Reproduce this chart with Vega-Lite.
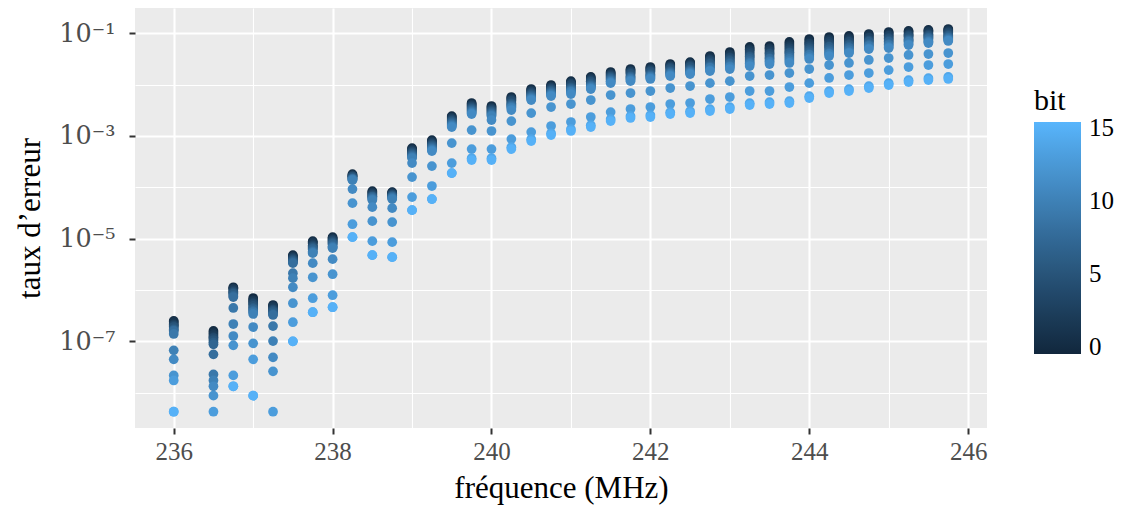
{
"$schema": "https://vega.github.io/schema/vega-lite/v6.json",
"width": 852, "height": 420,
"autosize": {"type": "none"},
"padding": {"left": 135, "top": 8, "right": 139, "bottom": 79},
"background": "white",
"config": {"view": {"fill": "#EBEBEB", "stroke": null}, "font": "Liberation Serif"},
"data": {"values": [
{"freq":236,"bit":0,"taux":2.49e-7},{"freq":236,"bit":1,"taux":2.38e-7},{"freq":236,"bit":2,"taux":2.17e-7},{"freq":236,"bit":3,"taux":2.08e-7},{"freq":236,"bit":4,"taux":1.98e-7},{"freq":236,"bit":5,"taux":1.90e-7},{"freq":236,"bit":6,"taux":1.73e-7},{"freq":236,"bit":7,"taux":1.66e-7},{"freq":236,"bit":8,"taux":1.59e-7},{"freq":236,"bit":9,"taux":1.39e-7},{"freq":236,"bit":10,"taux":6.68e-8},{"freq":236,"bit":11,"taux":4.46e-8},{"freq":236,"bit":12,"taux":2.17e-8},{"freq":236,"bit":13,"taux":1.73e-8},{"freq":236,"bit":14,"taux":4.26e-9},{"freq":236,"bit":15,"taux":4.26e-9},
{"freq":236.5,"bit":0,"taux":1.59e-7},{"freq":236.5,"bit":1,"taux":1.45e-7},{"freq":236.5,"bit":2,"taux":1.33e-7},{"freq":236.5,"bit":3,"taux":1.21e-7},{"freq":236.5,"bit":4,"taux":1.16e-7},{"freq":236.5,"bit":5,"taux":1.06e-7},{"freq":236.5,"bit":6,"taux":9.56e-8},{"freq":236.5,"bit":7,"taux":8.74e-8},{"freq":236.5,"bit":8,"taux":5.58e-8},{"freq":236.5,"bit":9,"taux":2.27e-8},{"freq":236.5,"bit":10,"taux":1.73e-8},{"freq":236.5,"bit":11,"taux":1.33e-8},{"freq":236.5,"bit":12,"taux":8.74e-9},{"freq":236.5,"bit":13,"taux":4.26e-9},
{"freq":236.75,"bit":0,"taux":1.13e-6},{"freq":236.75,"bit":1,"taux":1.08e-6},{"freq":236.75,"bit":2,"taux":1.04e-6},{"freq":236.75,"bit":3,"taux":9.56e-7},{"freq":236.75,"bit":4,"taux":9.14e-7},{"freq":236.75,"bit":5,"taux":8.74e-7},{"freq":236.75,"bit":6,"taux":8.36e-7},{"freq":236.75,"bit":7,"taux":7.64e-7},{"freq":236.75,"bit":8,"taux":7.30e-7},{"freq":236.75,"bit":9,"taux":4.46e-7},{"freq":236.75,"bit":10,"taux":2.17e-7},{"freq":236.75,"bit":11,"taux":1.27e-7},{"freq":236.75,"bit":12,"taux":8.36e-8},{"freq":236.75,"bit":13,"taux":2.17e-8},{"freq":236.75,"bit":14,"taux":1.33e-8},{"freq":236.75,"bit":15,"taux":1.33e-8},
{"freq":237,"bit":0,"taux":6.98e-7},{"freq":237,"bit":1,"taux":6.38e-7},{"freq":237,"bit":2,"taux":6.10e-7},{"freq":237,"bit":3,"taux":5.58e-7},{"freq":237,"bit":4,"taux":5.33e-7},{"freq":237,"bit":5,"taux":4.88e-7},{"freq":237,"bit":6,"taux":4.46e-7},{"freq":237,"bit":7,"taux":4.26e-7},{"freq":237,"bit":8,"taux":3.90e-7},{"freq":237,"bit":9,"taux":3.72e-7},{"freq":237,"bit":10,"taux":3.41e-7},{"freq":237,"bit":11,"taux":1.90e-7},{"freq":237,"bit":12,"taux":9.14e-8},{"freq":237,"bit":13,"taux":4.46e-8},{"freq":237,"bit":14,"taux":8.74e-9},{"freq":237,"bit":15,"taux":8.74e-9},
{"freq":237.25,"bit":0,"taux":5.10e-7},{"freq":237.25,"bit":1,"taux":4.88e-7},{"freq":237.25,"bit":2,"taux":4.66e-7},{"freq":237.25,"bit":3,"taux":4.26e-7},{"freq":237.25,"bit":4,"taux":4.08e-7},{"freq":237.25,"bit":5,"taux":3.90e-7},{"freq":237.25,"bit":6,"taux":3.72e-7},{"freq":237.25,"bit":7,"taux":3.41e-7},{"freq":237.25,"bit":8,"taux":3.26e-7},{"freq":237.25,"bit":9,"taux":1.98e-7},{"freq":237.25,"bit":10,"taux":1.01e-7},{"freq":237.25,"bit":11,"taux":4.88e-8},{"freq":237.25,"bit":12,"taux":2.60e-8},{"freq":237.25,"bit":13,"taux":4.26e-9},
{"freq":237.5,"bit":0,"taux":4.77e-6},{"freq":237.5,"bit":1,"taux":4.56e-6},{"freq":237.5,"bit":2,"taux":4.36e-6},{"freq":237.5,"bit":3,"taux":4.17e-6},{"freq":237.5,"bit":4,"taux":3.99e-6},{"freq":237.5,"bit":5,"taux":3.81e-6},{"freq":237.5,"bit":6,"taux":3.64e-6},{"freq":237.5,"bit":7,"taux":3.48e-6},{"freq":237.5,"bit":8,"taux":3.33e-6},{"freq":237.5,"bit":9,"taux":2.12e-6},{"freq":237.5,"bit":10,"taux":1.70e-6},{"freq":237.5,"bit":11,"taux":1.13e-6},{"freq":237.5,"bit":12,"taux":5.53e-7},{"freq":237.5,"bit":13,"taux":2.36e-7},{"freq":237.5,"bit":14,"taux":1.00e-7},{"freq":237.5,"bit":15,"taux":1.00e-7},
{"freq":237.75,"bit":0,"taux":8.94e-6},{"freq":237.75,"bit":1,"taux":8.55e-6},{"freq":237.75,"bit":2,"taux":8.17e-6},{"freq":237.75,"bit":3,"taux":7.47e-6},{"freq":237.75,"bit":4,"taux":7.14e-6},{"freq":237.75,"bit":5,"taux":6.83e-6},{"freq":237.75,"bit":6,"taux":6.53e-6},{"freq":237.75,"bit":7,"taux":6.24e-6},{"freq":237.75,"bit":8,"taux":5.71e-6},{"freq":237.75,"bit":9,"taux":5.46e-6},{"freq":237.75,"bit":10,"taux":5.22e-6},{"freq":237.75,"bit":11,"taux":3.33e-6},{"freq":237.75,"bit":12,"taux":1.77e-6},{"freq":237.75,"bit":13,"taux":6.92e-7},{"freq":237.75,"bit":14,"taux":3.69e-7},{"freq":237.75,"bit":15,"taux":3.69e-7},
{"freq":238,"bit":0,"taux":1.07e-5},{"freq":238,"bit":1,"taux":1.02e-5},{"freq":238,"bit":2,"taux":9.78e-6},{"freq":238,"bit":3,"taux":9.35e-6},{"freq":238,"bit":4,"taux":8.94e-6},{"freq":238,"bit":5,"taux":8.55e-6},{"freq":238,"bit":6,"taux":8.17e-6},{"freq":238,"bit":7,"taux":7.81e-6},{"freq":238,"bit":8,"taux":7.14e-6},{"freq":238,"bit":9,"taux":6.83e-6},{"freq":238,"bit":10,"taux":6.53e-6},{"freq":238,"bit":11,"taux":3.99e-6},{"freq":238,"bit":12,"taux":2.03e-6},{"freq":238,"bit":13,"taux":7.92e-7},{"freq":238,"bit":14,"taux":4.62e-7},{"freq":238,"bit":15,"taux":4.62e-7},
{"freq":238.25,"bit":0,"taux":1.81e-4},{"freq":238.25,"bit":1,"taux":1.73e-4},{"freq":238.25,"bit":2,"taux":1.70e-4},{"freq":238.25,"bit":3,"taux":1.65e-4},{"freq":238.25,"bit":4,"taux":1.62e-4},{"freq":238.25,"bit":5,"taux":1.58e-4},{"freq":238.25,"bit":6,"taux":1.51e-4},{"freq":238.25,"bit":7,"taux":1.48e-4},{"freq":238.25,"bit":8,"taux":1.45e-4},{"freq":238.25,"bit":9,"taux":1.42e-4},{"freq":238.25,"bit":10,"taux":1.38e-4},{"freq":238.25,"bit":11,"taux":9.22e-5},{"freq":238.25,"bit":12,"taux":4.92e-5},{"freq":238.25,"bit":13,"taux":1.91e-5},{"freq":238.25,"bit":14,"taux":1.07e-5},{"freq":238.25,"bit":15,"taux":1.07e-5},
{"freq":238.5,"bit":0,"taux":8.43e-5},{"freq":238.5,"bit":1,"taux":8.06e-5},{"freq":238.5,"bit":2,"taux":7.71e-5},{"freq":238.5,"bit":3,"taux":7.37e-5},{"freq":238.5,"bit":4,"taux":7.05e-5},{"freq":238.5,"bit":5,"taux":6.74e-5},{"freq":238.5,"bit":6,"taux":6.60e-5},{"freq":238.5,"bit":7,"taux":6.44e-5},{"freq":238.5,"bit":8,"taux":6.16e-5},{"freq":238.5,"bit":9,"taux":5.89e-5},{"freq":238.5,"bit":10,"taux":5.63e-5},{"freq":238.5,"bit":11,"taux":4.11e-5},{"freq":238.5,"bit":12,"taux":2.19e-5},{"freq":238.5,"bit":13,"taux":8.94e-6},{"freq":238.5,"bit":14,"taux":4.77e-6},{"freq":238.5,"bit":15,"taux":4.77e-6},
{"freq":238.75,"bit":0,"taux":8.06e-5},{"freq":238.75,"bit":1,"taux":7.85e-5},{"freq":238.75,"bit":2,"taux":7.60e-5},{"freq":238.75,"bit":3,"taux":7.37e-5},{"freq":238.75,"bit":4,"taux":7.15e-5},{"freq":238.75,"bit":5,"taux":6.95e-5},{"freq":238.75,"bit":6,"taux":6.74e-5},{"freq":238.75,"bit":7,"taux":6.55e-5},{"freq":238.75,"bit":8,"taux":6.35e-5},{"freq":238.75,"bit":9,"taux":6.16e-5},{"freq":238.75,"bit":10,"taux":5.89e-5},{"freq":238.75,"bit":11,"taux":3.93e-5},{"freq":238.75,"bit":12,"taux":2.10e-5},{"freq":238.75,"bit":13,"taux":8.55e-6},{"freq":238.75,"bit":14,"taux":4.36e-6},{"freq":238.75,"bit":15,"taux":4.36e-6},
{"freq":239,"bit":0,"taux":5.81e-4},{"freq":239,"bit":1,"taux":5.55e-4},{"freq":239,"bit":2,"taux":5.31e-4},{"freq":239,"bit":3,"taux":5.08e-4},{"freq":239,"bit":4,"taux":4.86e-4},{"freq":239,"bit":5,"taux":4.64e-4},{"freq":239,"bit":6,"taux":4.44e-4},{"freq":239,"bit":7,"taux":4.24e-4},{"freq":239,"bit":8,"taux":4.06e-4},{"freq":239,"bit":9,"taux":3.88e-4},{"freq":239,"bit":10,"taux":3.71e-4},{"freq":239,"bit":11,"taux":2.96e-4},{"freq":239,"bit":12,"taux":1.58e-4},{"freq":239,"bit":13,"taux":6.44e-5},{"freq":239,"bit":14,"taux":3.59e-5},{"freq":239,"bit":15,"taux":3.59e-5},
{"freq":239.25,"bit":0,"taux":8.32e-4},{"freq":239.25,"bit":1,"taux":7.95e-4},{"freq":239.25,"bit":2,"taux":7.60e-4},{"freq":239.25,"bit":3,"taux":7.27e-4},{"freq":239.25,"bit":4,"taux":6.95e-4},{"freq":239.25,"bit":5,"taux":6.65e-4},{"freq":239.25,"bit":6,"taux":6.36e-4},{"freq":239.25,"bit":7,"taux":6.08e-4},{"freq":239.25,"bit":8,"taux":5.81e-4},{"freq":239.25,"bit":9,"taux":5.55e-4},{"freq":239.25,"bit":10,"taux":5.31e-4},{"freq":239.25,"bit":11,"taux":5.08e-4},{"freq":239.25,"bit":12,"taux":2.59e-4},{"freq":239.25,"bit":13,"taux":1.06e-4},{"freq":239.25,"bit":14,"taux":5.89e-5},{"freq":239.25,"bit":15,"taux":5.89e-5},
{"freq":239.5,"bit":0,"taux":2.44e-3},{"freq":239.5,"bit":1,"taux":2.34e-3},{"freq":239.5,"bit":2,"taux":2.24e-3},{"freq":239.5,"bit":3,"taux":2.13e-3},{"freq":239.5,"bit":4,"taux":2.04e-3},{"freq":239.5,"bit":5,"taux":1.95e-3},{"freq":239.5,"bit":6,"taux":1.87e-3},{"freq":239.5,"bit":7,"taux":1.78e-3},{"freq":239.5,"bit":8,"taux":1.71e-3},{"freq":239.5,"bit":9,"taux":1.63e-3},{"freq":239.5,"bit":10,"taux":1.56e-3},{"freq":239.5,"bit":11,"taux":1.49e-3},{"freq":239.5,"bit":12,"taux":7.27e-4},{"freq":239.5,"bit":13,"taux":2.96e-4},{"freq":239.5,"bit":14,"taux":1.89e-4},{"freq":239.5,"bit":15,"taux":1.89e-4},
{"freq":239.75,"bit":0,"taux":4.38e-3},{"freq":239.75,"bit":1,"taux":4.19e-3},{"freq":239.75,"bit":2,"taux":4.00e-3},{"freq":239.75,"bit":3,"taux":3.83e-3},{"freq":239.75,"bit":4,"taux":3.66e-3},{"freq":239.75,"bit":5,"taux":3.50e-3},{"freq":239.75,"bit":6,"taux":3.35e-3},{"freq":239.75,"bit":7,"taux":3.20e-3},{"freq":239.75,"bit":8,"taux":3.06e-3},{"freq":239.75,"bit":9,"taux":2.92e-3},{"freq":239.75,"bit":10,"taux":2.79e-3},{"freq":239.75,"bit":11,"taux":2.67e-3},{"freq":239.75,"bit":12,"taux":1.30e-3},{"freq":239.75,"bit":13,"taux":5.55e-4},{"freq":239.75,"bit":14,"taux":3.70e-4},{"freq":239.75,"bit":15,"taux":3.39e-4},
{"freq":240,"bit":0,"taux":3.83e-3},{"freq":240,"bit":1,"taux":3.66e-3},{"freq":240,"bit":2,"taux":3.50e-3},{"freq":240,"bit":3,"taux":3.35e-3},{"freq":240,"bit":4,"taux":3.20e-3},{"freq":240,"bit":5,"taux":3.06e-3},{"freq":240,"bit":6,"taux":2.92e-3},{"freq":240,"bit":7,"taux":2.79e-3},{"freq":240,"bit":8,"taux":2.67e-3},{"freq":240,"bit":9,"taux":2.55e-3},{"freq":240,"bit":10,"taux":2.44e-3},{"freq":240,"bit":11,"taux":2.04e-3},{"freq":240,"bit":12,"taux":1.25e-3},{"freq":240,"bit":13,"taux":5.55e-4},{"freq":240,"bit":14,"taux":3.70e-4},{"freq":240,"bit":15,"taux":3.39e-4},
{"freq":240.25,"bit":0,"taux":5.73e-3},{"freq":240.25,"bit":1,"taux":5.48e-3},{"freq":240.25,"bit":2,"taux":5.24e-3},{"freq":240.25,"bit":3,"taux":5.01e-3},{"freq":240.25,"bit":4,"taux":4.79e-3},{"freq":240.25,"bit":5,"taux":4.38e-3},{"freq":240.25,"bit":6,"taux":4.19e-3},{"freq":240.25,"bit":7,"taux":4.00e-3},{"freq":240.25,"bit":8,"taux":3.83e-3},{"freq":240.25,"bit":9,"taux":3.66e-3},{"freq":240.25,"bit":10,"taux":3.50e-3},{"freq":240.25,"bit":11,"taux":3.20e-3},{"freq":240.25,"bit":12,"taux":1.95e-3},{"freq":240.25,"bit":13,"taux":8.70e-4},{"freq":240.25,"bit":14,"taux":6.05e-4},{"freq":240.25,"bit":15,"taux":5.55e-4},
{"freq":240.5,"bit":0,"taux":8.21e-3},{"freq":240.5,"bit":1,"taux":7.85e-3},{"freq":240.5,"bit":2,"taux":7.50e-3},{"freq":240.5,"bit":3,"taux":7.17e-3},{"freq":240.5,"bit":4,"taux":6.86e-3},{"freq":240.5,"bit":5,"taux":6.56e-3},{"freq":240.5,"bit":6,"taux":6.27e-3},{"freq":240.5,"bit":7,"taux":6.00e-3},{"freq":240.5,"bit":8,"taux":5.73e-3},{"freq":240.5,"bit":9,"taux":5.48e-3},{"freq":240.5,"bit":10,"taux":5.24e-3},{"freq":240.5,"bit":11,"taux":5.01e-3},{"freq":240.5,"bit":12,"taux":2.79e-3},{"freq":240.5,"bit":13,"taux":1.19e-3},{"freq":240.5,"bit":14,"taux":8.67e-4},{"freq":240.5,"bit":15,"taux":7.95e-4},
{"freq":240.75,"bit":0,"taux":9.82e-3},{"freq":240.75,"bit":1,"taux":9.39e-3},{"freq":240.75,"bit":2,"taux":8.98e-3},{"freq":240.75,"bit":3,"taux":8.58e-3},{"freq":240.75,"bit":4,"taux":8.21e-3},{"freq":240.75,"bit":5,"taux":7.85e-3},{"freq":240.75,"bit":6,"taux":7.50e-3},{"freq":240.75,"bit":7,"taux":7.17e-3},{"freq":240.75,"bit":8,"taux":6.86e-3},{"freq":240.75,"bit":9,"taux":6.56e-3},{"freq":240.75,"bit":10,"taux":6.27e-3},{"freq":240.75,"bit":11,"taux":6.00e-3},{"freq":240.75,"bit":12,"taux":3.66e-3},{"freq":240.75,"bit":13,"taux":1.56e-3},{"freq":240.75,"bit":14,"taux":1.13e-3},{"freq":240.75,"bit":15,"taux":1.04e-3},
{"freq":241,"bit":0,"taux":1.17e-2},{"freq":241,"bit":1,"taux":1.12e-2},{"freq":241,"bit":2,"taux":1.07e-2},{"freq":241,"bit":3,"taux":1.03e-2},{"freq":241,"bit":4,"taux":9.82e-3},{"freq":241,"bit":5,"taux":8.98e-3},{"freq":241,"bit":6,"taux":8.58e-3},{"freq":241,"bit":7,"taux":8.21e-3},{"freq":241,"bit":8,"taux":7.85e-3},{"freq":241,"bit":9,"taux":7.50e-3},{"freq":241,"bit":10,"taux":7.17e-3},{"freq":241,"bit":11,"taux":6.56e-3},{"freq":241,"bit":12,"taux":4.19e-3},{"freq":241,"bit":13,"taux":1.87e-3},{"freq":241,"bit":14,"taux":1.36e-3},{"freq":241,"bit":15,"taux":1.25e-3},
{"freq":241.25,"bit":0,"taux":1.41e-2},{"freq":241.25,"bit":1,"taux":1.35e-2},{"freq":241.25,"bit":2,"taux":1.29e-2},{"freq":241.25,"bit":3,"taux":1.23e-2},{"freq":241.25,"bit":4,"taux":1.17e-2},{"freq":241.25,"bit":5,"taux":1.12e-2},{"freq":241.25,"bit":6,"taux":1.03e-2},{"freq":241.25,"bit":7,"taux":9.82e-3},{"freq":241.25,"bit":8,"taux":9.39e-3},{"freq":241.25,"bit":9,"taux":8.98e-3},{"freq":241.25,"bit":10,"taux":8.58e-3},{"freq":241.25,"bit":11,"taux":8.21e-3},{"freq":241.25,"bit":12,"taux":5.01e-3},{"freq":241.25,"bit":13,"taux":2.34e-3},{"freq":241.25,"bit":14,"taux":1.62e-3},{"freq":241.25,"bit":15,"taux":1.49e-3},
{"freq":241.5,"bit":0,"taux":1.76e-2},{"freq":241.5,"bit":1,"taux":1.68e-2},{"freq":241.5,"bit":2,"taux":1.61e-2},{"freq":241.5,"bit":3,"taux":1.54e-2},{"freq":241.5,"bit":4,"taux":1.47e-2},{"freq":241.5,"bit":5,"taux":1.41e-2},{"freq":241.5,"bit":6,"taux":1.35e-2},{"freq":241.5,"bit":7,"taux":1.29e-2},{"freq":241.5,"bit":8,"taux":1.23e-2},{"freq":241.5,"bit":9,"taux":1.17e-2},{"freq":241.5,"bit":10,"taux":1.12e-2},{"freq":241.5,"bit":11,"taux":1.07e-2},{"freq":241.5,"bit":12,"taux":6.27e-3},{"freq":241.5,"bit":13,"taux":2.92e-3},{"freq":241.5,"bit":14,"taux":2.13e-3},{"freq":241.5,"bit":15,"taux":1.95e-3},
{"freq":241.75,"bit":0,"taux":2.01e-2},{"freq":241.75,"bit":1,"taux":1.92e-2},{"freq":241.75,"bit":2,"taux":1.84e-2},{"freq":241.75,"bit":3,"taux":1.76e-2},{"freq":241.75,"bit":4,"taux":1.68e-2},{"freq":241.75,"bit":5,"taux":1.61e-2},{"freq":241.75,"bit":6,"taux":1.47e-2},{"freq":241.75,"bit":7,"taux":1.41e-2},{"freq":241.75,"bit":8,"taux":1.35e-2},{"freq":241.75,"bit":9,"taux":1.29e-2},{"freq":241.75,"bit":10,"taux":1.23e-2},{"freq":241.75,"bit":11,"taux":1.17e-2},{"freq":241.75,"bit":12,"taux":6.86e-3},{"freq":241.75,"bit":13,"taux":3.35e-3},{"freq":241.75,"bit":14,"taux":2.44e-3},{"freq":241.75,"bit":15,"taux":2.24e-3},
{"freq":242,"bit":0,"taux":2.20e-2},{"freq":242,"bit":1,"taux":2.11e-2},{"freq":242,"bit":2,"taux":2.01e-2},{"freq":242,"bit":3,"taux":1.92e-2},{"freq":242,"bit":4,"taux":1.84e-2},{"freq":242,"bit":5,"taux":1.76e-2},{"freq":242,"bit":6,"taux":1.61e-2},{"freq":242,"bit":7,"taux":1.54e-2},{"freq":242,"bit":8,"taux":1.47e-2},{"freq":242,"bit":9,"taux":1.41e-2},{"freq":242,"bit":10,"taux":1.35e-2},{"freq":242,"bit":11,"taux":1.29e-2},{"freq":242,"bit":12,"taux":7.50e-3},{"freq":242,"bit":13,"taux":3.66e-3},{"freq":242,"bit":14,"taux":2.55e-3},{"freq":242,"bit":15,"taux":2.34e-3},
{"freq":242.25,"bit":0,"taux":2.52e-2},{"freq":242.25,"bit":1,"taux":2.41e-2},{"freq":242.25,"bit":2,"taux":2.30e-2},{"freq":242.25,"bit":3,"taux":2.20e-2},{"freq":242.25,"bit":4,"taux":2.11e-2},{"freq":242.25,"bit":5,"taux":2.01e-2},{"freq":242.25,"bit":6,"taux":1.84e-2},{"freq":242.25,"bit":7,"taux":1.76e-2},{"freq":242.25,"bit":8,"taux":1.68e-2},{"freq":242.25,"bit":9,"taux":1.61e-2},{"freq":242.25,"bit":10,"taux":1.54e-2},{"freq":242.25,"bit":11,"taux":1.47e-2},{"freq":242.25,"bit":12,"taux":8.58e-3},{"freq":242.25,"bit":13,"taux":4.19e-3},{"freq":242.25,"bit":14,"taux":2.91e-3},{"freq":242.25,"bit":15,"taux":2.67e-3},
{"freq":242.5,"bit":0,"taux":2.75e-2},{"freq":242.5,"bit":1,"taux":2.64e-2},{"freq":242.5,"bit":2,"taux":2.52e-2},{"freq":242.5,"bit":3,"taux":2.41e-2},{"freq":242.5,"bit":4,"taux":2.30e-2},{"freq":242.5,"bit":5,"taux":2.20e-2},{"freq":242.5,"bit":6,"taux":2.01e-2},{"freq":242.5,"bit":7,"taux":1.92e-2},{"freq":242.5,"bit":8,"taux":1.84e-2},{"freq":242.5,"bit":9,"taux":1.76e-2},{"freq":242.5,"bit":10,"taux":1.68e-2},{"freq":242.5,"bit":11,"taux":1.61e-2},{"freq":242.5,"bit":12,"taux":9.39e-3},{"freq":242.5,"bit":13,"taux":4.38e-3},{"freq":242.5,"bit":14,"taux":3.04e-3},{"freq":242.5,"bit":15,"taux":2.79e-3},
{"freq":242.75,"bit":0,"taux":3.61e-2},{"freq":242.75,"bit":1,"taux":3.45e-2},{"freq":242.75,"bit":2,"taux":3.16e-2},{"freq":242.75,"bit":3,"taux":3.02e-2},{"freq":242.75,"bit":4,"taux":2.88e-2},{"freq":242.75,"bit":5,"taux":2.64e-2},{"freq":242.75,"bit":6,"taux":2.52e-2},{"freq":242.75,"bit":7,"taux":2.30e-2},{"freq":242.75,"bit":8,"taux":2.20e-2},{"freq":242.75,"bit":9,"taux":2.11e-2},{"freq":242.75,"bit":10,"taux":1.92e-2},{"freq":242.75,"bit":11,"taux":1.84e-2},{"freq":242.75,"bit":12,"taux":1.07e-2},{"freq":242.75,"bit":13,"taux":5.24e-3},{"freq":242.75,"bit":14,"taux":3.34e-3},{"freq":242.75,"bit":15,"taux":3.06e-3},
{"freq":243,"bit":0,"taux":4.32e-2},{"freq":243,"bit":1,"taux":3.95e-2},{"freq":243,"bit":2,"taux":3.78e-2},{"freq":243,"bit":3,"taux":3.45e-2},{"freq":243,"bit":4,"taux":3.30e-2},{"freq":243,"bit":5,"taux":3.02e-2},{"freq":243,"bit":6,"taux":2.88e-2},{"freq":243,"bit":7,"taux":2.64e-2},{"freq":243,"bit":8,"taux":2.52e-2},{"freq":243,"bit":9,"taux":2.30e-2},{"freq":243,"bit":10,"taux":2.20e-2},{"freq":243,"bit":11,"taux":2.01e-2},{"freq":243,"bit":12,"taux":1.17e-2},{"freq":243,"bit":13,"taux":5.73e-3},{"freq":243,"bit":14,"taux":3.65e-3},{"freq":243,"bit":15,"taux":3.35e-3},
{"freq":243.25,"bit":0,"taux":5.41e-2},{"freq":243.25,"bit":1,"taux":4.94e-2},{"freq":243.25,"bit":2,"taux":4.72e-2},{"freq":243.25,"bit":3,"taux":4.32e-2},{"freq":243.25,"bit":4,"taux":3.95e-2},{"freq":243.25,"bit":5,"taux":3.61e-2},{"freq":243.25,"bit":6,"taux":3.45e-2},{"freq":243.25,"bit":7,"taux":3.16e-2},{"freq":243.25,"bit":8,"taux":2.88e-2},{"freq":243.25,"bit":9,"taux":2.64e-2},{"freq":243.25,"bit":10,"taux":2.52e-2},{"freq":243.25,"bit":11,"taux":2.30e-2},{"freq":243.25,"bit":12,"taux":1.47e-2},{"freq":243.25,"bit":13,"taux":7.50e-3},{"freq":243.25,"bit":14,"taux":4.36e-3},{"freq":243.25,"bit":15,"taux":4.00e-3},
{"freq":243.5,"bit":0,"taux":5.65e-2},{"freq":243.5,"bit":1,"taux":5.17e-2},{"freq":243.5,"bit":2,"taux":4.94e-2},{"freq":243.5,"bit":3,"taux":4.52e-2},{"freq":243.5,"bit":4,"taux":4.13e-2},{"freq":243.5,"bit":5,"taux":3.95e-2},{"freq":243.5,"bit":6,"taux":3.61e-2},{"freq":243.5,"bit":7,"taux":3.30e-2},{"freq":243.5,"bit":8,"taux":3.16e-2},{"freq":243.5,"bit":9,"taux":2.88e-2},{"freq":243.5,"bit":10,"taux":2.75e-2},{"freq":243.5,"bit":11,"taux":2.52e-2},{"freq":243.5,"bit":12,"taux":1.54e-2},{"freq":243.5,"bit":13,"taux":7.50e-3},{"freq":243.5,"bit":14,"taux":4.57e-3},{"freq":243.5,"bit":15,"taux":4.19e-3},
{"freq":243.75,"bit":0,"taux":6.77e-2},{"freq":243.75,"bit":1,"taux":6.18e-2},{"freq":243.75,"bit":2,"taux":5.65e-2},{"freq":243.75,"bit":3,"taux":5.17e-2},{"freq":243.75,"bit":4,"taux":4.72e-2},{"freq":243.75,"bit":5,"taux":4.32e-2},{"freq":243.75,"bit":6,"taux":4.13e-2},{"freq":243.75,"bit":7,"taux":3.78e-2},{"freq":243.75,"bit":8,"taux":3.45e-2},{"freq":243.75,"bit":9,"taux":3.16e-2},{"freq":243.75,"bit":10,"taux":2.88e-2},{"freq":243.75,"bit":11,"taux":2.64e-2},{"freq":243.75,"bit":12,"taux":1.68e-2},{"freq":243.75,"bit":13,"taux":8.98e-3},{"freq":243.75,"bit":14,"taux":4.77e-3},{"freq":243.75,"bit":15,"taux":4.38e-3},
{"freq":244,"bit":0,"taux":7.74e-2},{"freq":244,"bit":1,"taux":7.08e-2},{"freq":244,"bit":2,"taux":6.47e-2},{"freq":244,"bit":3,"taux":6.18e-2},{"freq":244,"bit":4,"taux":5.65e-2},{"freq":244,"bit":5,"taux":5.17e-2},{"freq":244,"bit":6,"taux":4.72e-2},{"freq":244,"bit":7,"taux":4.32e-2},{"freq":244,"bit":8,"taux":3.95e-2},{"freq":244,"bit":9,"taux":3.78e-2},{"freq":244,"bit":10,"taux":3.45e-2},{"freq":244,"bit":11,"taux":3.16e-2},{"freq":244,"bit":12,"taux":2.01e-2},{"freq":244,"bit":13,"taux":1.07e-2},{"freq":244,"bit":14,"taux":5.97e-3},{"freq":244,"bit":15,"taux":5.48e-3},
{"freq":244.25,"bit":0,"taux":8.47e-2},{"freq":244.25,"bit":1,"taux":7.74e-2},{"freq":244.25,"bit":2,"taux":7.40e-2},{"freq":244.25,"bit":3,"taux":6.77e-2},{"freq":244.25,"bit":4,"taux":6.18e-2},{"freq":244.25,"bit":5,"taux":5.65e-2},{"freq":244.25,"bit":6,"taux":5.41e-2},{"freq":244.25,"bit":7,"taux":4.94e-2},{"freq":244.25,"bit":8,"taux":4.52e-2},{"freq":244.25,"bit":9,"taux":4.13e-2},{"freq":244.25,"bit":10,"taux":3.95e-2},{"freq":244.25,"bit":11,"taux":3.61e-2},{"freq":244.25,"bit":12,"taux":2.41e-2},{"freq":244.25,"bit":13,"taux":1.35e-2},{"freq":244.25,"bit":14,"taux":7.48e-3},{"freq":244.25,"bit":15,"taux":6.86e-3},
{"freq":244.5,"bit":0,"taux":8.86e-2},{"freq":244.5,"bit":1,"taux":8.10e-2},{"freq":244.5,"bit":2,"taux":7.74e-2},{"freq":244.5,"bit":3,"taux":7.08e-2},{"freq":244.5,"bit":4,"taux":6.77e-2},{"freq":244.5,"bit":5,"taux":6.18e-2},{"freq":244.5,"bit":6,"taux":5.91e-2},{"freq":244.5,"bit":7,"taux":5.41e-2},{"freq":244.5,"bit":8,"taux":5.17e-2},{"freq":244.5,"bit":9,"taux":4.72e-2},{"freq":244.5,"bit":10,"taux":4.32e-2},{"freq":244.5,"bit":11,"taux":4.13e-2},{"freq":244.5,"bit":12,"taux":2.64e-2},{"freq":244.5,"bit":13,"taux":1.54e-2},{"freq":244.5,"bit":14,"taux":8.18e-3},{"freq":244.5,"bit":15,"taux":7.50e-3},
{"freq":244.75,"bit":0,"taux":9.69e-2},{"freq":244.75,"bit":1,"taux":9.27e-2},{"freq":244.75,"bit":2,"taux":8.47e-2},{"freq":244.75,"bit":3,"taux":8.10e-2},{"freq":244.75,"bit":4,"taux":7.40e-2},{"freq":244.75,"bit":5,"taux":7.08e-2},{"freq":244.75,"bit":6,"taux":6.77e-2},{"freq":244.75,"bit":7,"taux":6.18e-2},{"freq":244.75,"bit":8,"taux":5.91e-2},{"freq":244.75,"bit":9,"taux":5.65e-2},{"freq":244.75,"bit":10,"taux":5.17e-2},{"freq":244.75,"bit":11,"taux":4.94e-2},{"freq":244.75,"bit":12,"taux":3.02e-2},{"freq":244.75,"bit":13,"taux":1.68e-2},{"freq":244.75,"bit":14,"taux":9.35e-3},{"freq":244.75,"bit":15,"taux":8.58e-3},
{"freq":245,"bit":0,"taux":1.06e-1},{"freq":245,"bit":1,"taux":1.01e-1},{"freq":245,"bit":2,"taux":9.27e-2},{"freq":245,"bit":3,"taux":8.86e-2},{"freq":245,"bit":4,"taux":8.10e-2},{"freq":245,"bit":5,"taux":7.74e-2},{"freq":245,"bit":6,"taux":7.08e-2},{"freq":245,"bit":7,"taux":6.77e-2},{"freq":245,"bit":8,"taux":6.18e-2},{"freq":245,"bit":9,"taux":5.91e-2},{"freq":245,"bit":10,"taux":5.41e-2},{"freq":245,"bit":11,"taux":5.17e-2},{"freq":245,"bit":12,"taux":3.30e-2},{"freq":245,"bit":13,"taux":1.92e-2},{"freq":245,"bit":14,"taux":1.07e-2},{"freq":245,"bit":15,"taux":9.82e-3},
{"freq":245.25,"bit":0,"taux":1.11e-1},{"freq":245.25,"bit":1,"taux":1.06e-1},{"freq":245.25,"bit":2,"taux":9.69e-2},{"freq":245.25,"bit":3,"taux":9.27e-2},{"freq":245.25,"bit":4,"taux":8.86e-2},{"freq":245.25,"bit":5,"taux":8.47e-2},{"freq":245.25,"bit":6,"taux":7.74e-2},{"freq":245.25,"bit":7,"taux":7.40e-2},{"freq":245.25,"bit":8,"taux":7.08e-2},{"freq":245.25,"bit":9,"taux":6.77e-2},{"freq":245.25,"bit":10,"taux":6.18e-2},{"freq":245.25,"bit":11,"taux":5.91e-2},{"freq":245.25,"bit":12,"taux":3.78e-2},{"freq":245.25,"bit":13,"taux":2.20e-2},{"freq":245.25,"bit":14,"taux":1.22e-2},{"freq":245.25,"bit":15,"taux":1.12e-2},
{"freq":245.5,"bit":0,"taux":1.16e-1},{"freq":245.5,"bit":1,"taux":1.11e-1},{"freq":245.5,"bit":2,"taux":1.06e-1},{"freq":245.5,"bit":3,"taux":9.69e-2},{"freq":245.5,"bit":4,"taux":9.27e-2},{"freq":245.5,"bit":5,"taux":8.86e-2},{"freq":245.5,"bit":6,"taux":8.47e-2},{"freq":245.5,"bit":7,"taux":8.10e-2},{"freq":245.5,"bit":8,"taux":7.74e-2},{"freq":245.5,"bit":9,"taux":7.08e-2},{"freq":245.5,"bit":10,"taux":6.77e-2},{"freq":245.5,"bit":11,"taux":6.47e-2},{"freq":245.5,"bit":12,"taux":3.95e-2},{"freq":245.5,"bit":13,"taux":2.41e-2},{"freq":245.5,"bit":14,"taux":1.34e-2},{"freq":245.5,"bit":15,"taux":1.23e-2},
{"freq":245.75,"bit":0,"taux":1.21e-1},{"freq":245.75,"bit":1,"taux":1.16e-1},{"freq":245.75,"bit":2,"taux":1.11e-1},{"freq":245.75,"bit":3,"taux":1.06e-1},{"freq":245.75,"bit":4,"taux":1.01e-1},{"freq":245.75,"bit":5,"taux":9.27e-2},{"freq":245.75,"bit":6,"taux":8.86e-2},{"freq":245.75,"bit":7,"taux":8.47e-2},{"freq":245.75,"bit":8,"taux":8.10e-2},{"freq":245.75,"bit":9,"taux":7.74e-2},{"freq":245.75,"bit":10,"taux":7.40e-2},{"freq":245.75,"bit":11,"taux":7.08e-2},{"freq":245.75,"bit":12,"taux":4.13e-2},{"freq":245.75,"bit":13,"taux":2.52e-2},{"freq":245.75,"bit":14,"taux":1.41e-2},{"freq":245.75,"bit":15,"taux":1.29e-2}
]},
"mark": {"type": "circle", "size": 95, "opacity": 1},
"encoding": {
  "x": {"field": "freq", "type": "quantitative", "title": "fréquence (MHz)",
    "scale": {"domain": [235.5125, 246.2375], "nice": false, "zero": false},
    "axis": {"values": [236,237,238,239,240,241,242,243,244,245,246],
      "labelExpr": "datum.value % 2 == 0 ? datum.label : ''",
      "grid": true, "gridColor": "white",
      "gridWidth": {"condition": {"test": "datum.value % 2 == 1", "value": 1.1}, "value": 2.1},
      "tickColor": {"condition": {"test": "datum.value % 2 == 1", "value": "transparent"}, "value": "#333333"},
      "tickSize": 6, "tickWidth": 2, "domain": false,
      "labelFontSize": 25, "labelColor": "#4D4D4D", "labelPadding": 5, "labelFlush": false,
      "titleFontSize": 31, "titleColor": "black", "titleFontWeight": "normal", "titlePadding": 9}},
  "y": {"field": "taux", "type": "quantitative", "title": "taux d’erreur",
    "scale": {"type": "log", "domain": [2.05e-9, 0.311], "nice": false},
    "axis": {"values": [1e-8,1e-7,1e-6,1e-5,1e-4,1e-3,1e-2,1e-1],
      "labelExpr": "round(log(datum.value)/LN10) == -1 ? '10⁻¹' : round(log(datum.value)/LN10) == -3 ? '10⁻³' : round(log(datum.value)/LN10) == -5 ? '10⁻⁵' : round(log(datum.value)/LN10) == -7 ? '10⁻⁷' : ''",
      "grid": true, "gridColor": "white",
      "gridWidth": {"condition": {"test": "round(log(datum.value)/LN10) % 2 == 0", "value": 1.1}, "value": 2.1},
      "tickColor": {"condition": {"test": "round(log(datum.value)/LN10) % 2 == 0", "value": "transparent"}, "value": "#333333"},
      "tickSize": 6, "tickWidth": 2, "domain": false,
      "labelFont": "DejaVu Serif", "labelFontSize": 25.5, "labelColor": "#4D4D4D", "labelPadding": 14, "labelFlush": false,
      "titleFontSize": 31, "titleColor": "black", "titleFontWeight": "normal", "titlePadding": 12}},
  "color": {"field": "bit", "type": "quantitative",
    "scale": {"domain": [-0.48, 15.41], "range": ["#11273D", "#58B5FC"], "interpolate": "lab"},
    "legend": {"orient": "none", "legendX": 899, "legendY": 78, "direction": "vertical",
      "gradientLength": 232, "gradientThickness": 47, "gradientStrokeWidth": 0,
      "values": [0,5,10,15], "title": "bit", "titleFontSize": 30, "titleFontWeight": "normal",
      "titleColor": "black", "titlePadding": 6, "labelFontSize": 25, "labelColor": "black", "labelOffset": 8}}
}
}
